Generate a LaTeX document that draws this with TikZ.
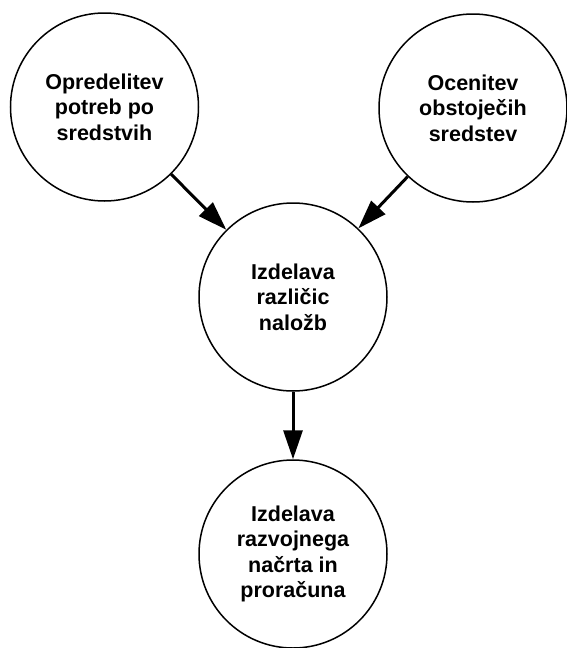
\documentclass[tikz,border=0pt]{standalone}
\usepackage{fontspec}
\setmainfont{Liberation Sans}
\usetikzlibrary{arrows.meta}
\begin{document}
\begin{tikzpicture}[x=1pt,y=-1pt,
  stage/.style={circle,draw=black,line width=1.5pt,minimum size=188pt,inner sep=0pt,
    align=center,font=\fontsize{21.5pt}{25.5pt}\selectfont\bfseries},
  flow/.style={line width=3pt,-{Triangle[length=29pt,width=19pt]}}]
  \useasboundingbox (0,0) rectangle (567,648);
  % four stages of the planning process
  \node[stage] (need)   at (104.5,107) {Opredelitev\\potreb po\\sredstvih};
  \node[stage] (assets) at (473,108)   {Ocenitev\\obstoječih\\sredstev};
  \node[stage] (invest) at (293,297)   {Izdelava\\različic\\naložb};
  \node[stage] (plan)   at (293,554)   {Izdelava\\razvojnega\\načrta in\\proračuna};
  % connectors
  \draw[flow] (need) -- (invest);
  \draw[flow] (assets) -- (invest);
  \draw[flow] (invest) -- (plan);
\end{tikzpicture}
\end{document}
